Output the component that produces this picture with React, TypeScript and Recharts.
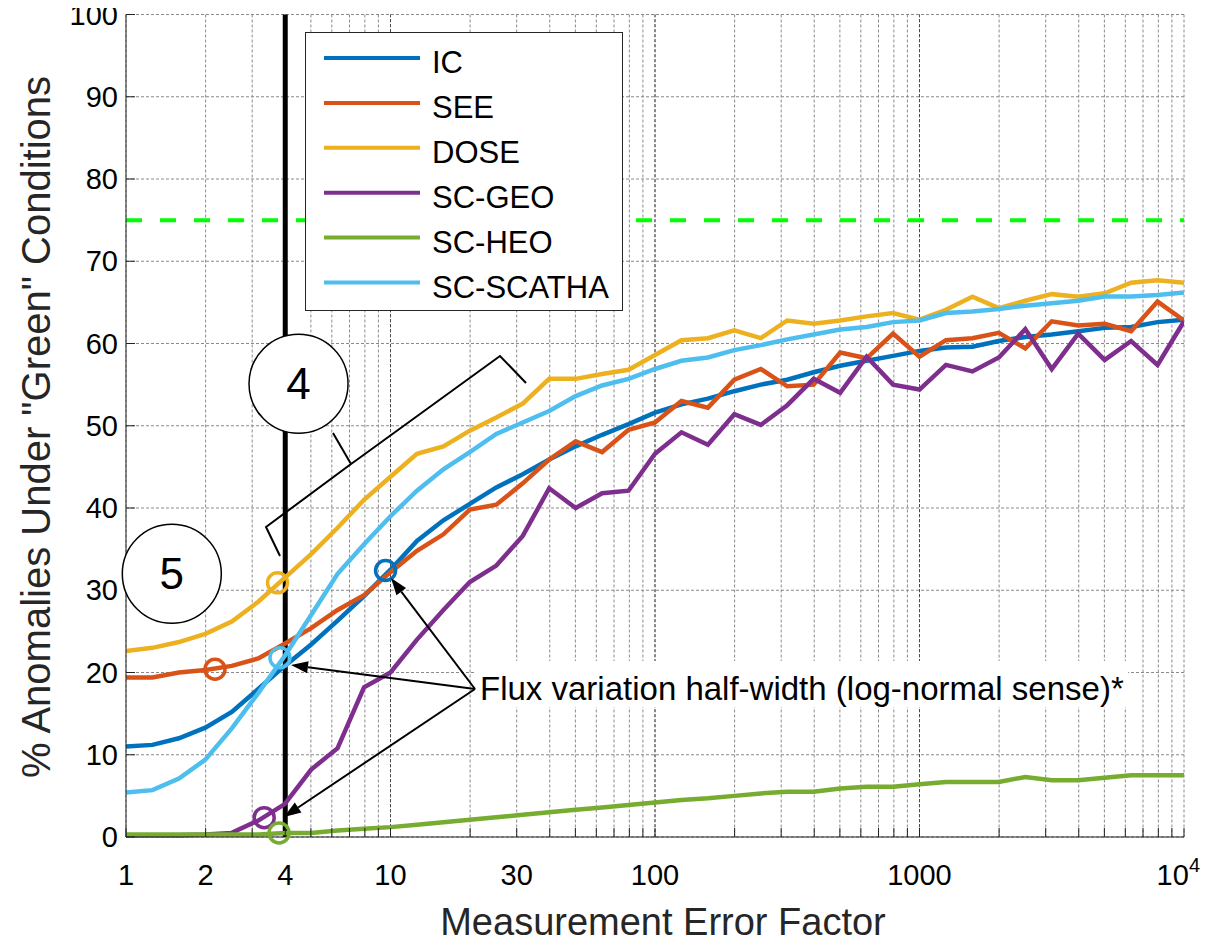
import React from 'react';
import { LineChart, Line, XAxis, YAxis, CartesianGrid, ReferenceLine, ReferenceDot, Legend } from 'recharts';

const errorFactor = [1, 1.259, 1.585, 1.995, 2.512, 3.162, 3.981, 5.012, 6.31, 7.943, 10, 12.59, 15.85, 19.95, 25.12, 31.62, 39.81, 50.12, 63.1, 79.43, 100, 125.9, 158.5, 199.5, 251.2, 316.2, 398.1, 501.2, 631, 794.3, 1000, 1259, 1585, 1995, 2512, 3162, 3981, 5012, 6310, 7943, 10000];

const icValues = [11.0, 11.2, 12.0, 13.3, 15.2, 18.0, 20.8, 23.4, 26.3, 29.3, 32.5, 36.0, 38.5, 40.5, 42.5, 44.1, 45.9, 47.5, 48.9, 50.2, 51.6, 52.6, 53.3, 54.2, 55.0, 55.6, 56.5, 57.3, 57.9, 58.5, 59.1, 59.5, 59.6, 60.3, 60.8, 61.1, 61.5, 61.9, 62.0, 62.6, 62.9];
const seeValues = [19.4, 19.4, 20.0, 20.3, 20.8, 21.7, 23.5, 25.4, 27.6, 29.4, 32.2, 34.8, 36.8, 39.8, 40.4, 43.0, 45.9, 48.1, 46.8, 49.5, 50.4, 53.0, 52.2, 55.6, 56.9, 54.8, 55.0, 58.9, 58.2, 61.2, 58.4, 60.4, 60.65, 61.3, 59.4, 62.7, 62.2, 62.4, 61.5, 65.1, 62.8];
const doseValues = [22.6, 23.0, 23.7, 24.7, 26.2, 28.6, 31.5, 34.4, 37.6, 41.0, 43.8, 46.6, 47.5, 49.4, 51.0, 52.7, 55.7, 55.7, 56.3, 56.8, 58.6, 60.4, 60.65, 61.6, 60.65, 62.8, 62.4, 62.8, 63.3, 63.7, 62.9, 64.1, 65.7, 64.3, 65.2, 66.0, 65.7, 66.1, 67.4, 67.7, 67.4];
const geoValues = [0.2, 0.2, 0.2, 0.3, 0.5, 2.0, 4.0, 8.2, 10.8, 18.2, 20.0, 24.0, 27.6, 31.0, 33.0, 36.6, 42.4, 40.0, 41.8, 42.1, 46.6, 49.2, 47.7, 51.4, 50.1, 52.5, 55.7, 54.0, 58.4, 55.0, 54.4, 57.4, 56.6, 58.3, 61.75, 56.9, 61.2, 58.0, 60.3, 57.4, 62.7];
const heoValues = [0.3, 0.3, 0.3, 0.3, 0.3, 0.3, 0.5, 0.5, 0.8, 1.0, 1.2, 1.5, 1.8, 2.1, 2.4, 2.7, 3.0, 3.3, 3.6, 3.9, 4.2, 4.5, 4.7, 5.0, 5.3, 5.5, 5.5, 5.9, 6.1, 6.1, 6.4, 6.7, 6.7, 6.7, 7.3, 6.9, 6.9, 7.2, 7.5, 7.5, 7.5];
const scathaValues = [5.4, 5.7, 7.1, 9.4, 13.2, 17.5, 22.0, 27.0, 32.0, 35.6, 39.0, 42.1, 44.7, 46.8, 49.0, 50.4, 51.8, 53.6, 54.9, 55.7, 56.9, 57.9, 58.3, 59.2, 59.8, 60.5, 61.1, 61.7, 62.0, 62.6, 62.8, 63.7, 63.9, 64.2, 64.6, 64.9, 65.2, 65.7, 65.7, 65.9, 66.2];

const seriesNames = ['IC', 'SEE', 'DOSE', 'SC-GEO', 'SC-HEO', 'SC-SCATHA'];
const seriesValues = [icValues, seeValues, doseValues, geoValues, heoValues, scathaValues];
const seriesColors = ['#0072BD', '#D95319', '#EDB120', '#7E2F8E', '#77AC30', '#4DBEEE'];

// half-width markers (open circles)
const markerX = [9.58, 2.17, 3.74, 3.33, 3.79, 3.82];
const markerY = [32.4, 20.4, 30.9, 2.35, 0.5, 21.8];

const xTickValues = [1, 2, 4, 10, 30, 100, 1000, 10000];
const xTickLabels = ['1', '2', '4', '10', '30', '100', '1000', '10^4'];
const xGridTicks = [1, 2, 3, 4, 5, 6, 7, 8, 9, 10, 20, 30, 40, 50, 60, 70, 80, 90, 100, 200, 300, 400, 500, 600, 700, 800, 900, 1000, 2000, 3000, 4000, 5000, 6000, 7000, 8000, 9000, 10000];
const xMajorGrid = [10, 100, 1000];
const yTicks = [0, 10, 20, 30, 40, 50, 60, 70, 80, 90, 100];

const thresholdY = 75;
const flagX = 4;
const callouts = [
  { label: '4', x: 4.49, y: 55.1 },
  { label: '5', x: 1.49, y: 32.0 },
];

const data = errorFactor.map((x, i) => {
  const row: Record<string, number> = { x };
  seriesNames.forEach((n, s) => { row[n] = seriesValues[s][i]; });
  return row;
});

const FONT = "'Liberation Sans', Arial, Helvetica, sans-serif";
const W = 1196;
const H = 939;

const XTick = (props: any) => {
  const { x, y, payload } = props;
  const i = xTickValues.indexOf(payload.value);
  if (i < 0) return <g />;
  const lab = xTickLabels[i];
  if (lab === '10^4') {
    return (
      <text x={x + 16} y={y + 57} textAnchor="end" fontSize={29} fontFamily={FONT} fill="#000">
        10<tspan dy={-13} fontSize={20}>4</tspan>
      </text>
    );
  }
  return (
    <text x={x} y={y + 57} textAnchor="middle" fontSize={29} fontFamily={FONT} fill="#000">{lab}</text>
  );
};

const YTick = (props: any) => {
  const { x, y, payload } = props;
  return (
    <text x={x} y={y} dy={10} textAnchor="end" fontSize={29} fontFamily={FONT} fill="#000">{payload.value}</text>
  );
};

const LegendBox = () => (
  <svg width={318} height={279} style={{ display: 'block' }}>
    <rect x={0.5} y={0.5} width={317} height={278} fill="#fff" stroke="#262626" strokeWidth={1} />
    {seriesNames.map((n, i) => {
      const cy = 26 + i * 44.9;
      return (
        <g key={n}>
          <line x1={19} x2={115} y1={cy} y2={cy} stroke={seriesColors[i]} strokeWidth={4} />
          <text x={127} y={cy + 15} fontSize={31} fontFamily={FONT} fill="#000">{n}</text>
        </g>
      );
    })}
  </svg>
);

const arrowPts = (fx: number, fy: number, tx: number, ty: number) => {
  const dx = tx - fx, dy = ty - fy;
  const L = Math.hypot(dx, dy);
  const ux = dx / L, uy = dy / L;
  const len = 17, half = 6;
  const bx = tx - ux * len, by = ty - uy * len;
  return { bx, by, pts: `${tx},${ty} ${bx - uy * half},${by + ux * half} ${bx + uy * half},${by - ux * half}` };
};

const Overlay = () => {
  const o = 8;
  const from = [475 - o, 689 - o];
  const tips = [[391 - o, 578 - o], [291 - o, 665 - o], [284 - o, 817 - o]];
  return (
    <svg width={W} height={H} style={{ position: 'absolute', left: 0, top: 0, pointerEvents: 'none' }}>
      <path
        d={`M${280 - o},${556 - o} L${266 - o},${527 - o} L${351 - o},${464 - o} L${333 - o},${433 - o} M${351 - o},${464 - o} L${358 - o},${459 - o} L${500 - o},${356 - o} L${526 - o},${383 - o}`}
        fill="none" stroke="#000" strokeWidth={2} strokeLinejoin="miter" />
      <rect x={476 - o} y={661 - o} width={652} height={46} fill="#fff" />
      <text x={480 - o} y={700 - o} fontSize={33} fontFamily={FONT} fill="#000">Flux variation half-width (log-normal sense)*</text>
      {tips.map((t, i) => {
        const a = arrowPts(from[0], from[1], t[0], t[1]);
        return (
          <g key={i}>
            <line x1={from[0]} y1={from[1]} x2={a.bx} y2={a.by} stroke="#000" strokeWidth={2} />
            <polygon points={a.pts} fill="#000" />
          </g>
        );
      })}
    </svg>
  );
};

export default function App() {
  return (
    <div style={{ position: 'relative', width: W, height: H, fontFamily: FONT }}>
      <LineChart width={W} height={H} data={data} margin={{ top: 6.5, right: 20, left: 0, bottom: 0 }}>
        <CartesianGrid stroke="#8a8a8a" strokeDasharray="3 2" strokeWidth={1} />
        {xMajorGrid.map((v) => (
          <ReferenceLine key={'mg' + v} x={v} stroke="#4a4a4a" strokeDasharray="3 2" strokeWidth={1} />
        ))}
        <XAxis
          dataKey="x" type="number" scale="log" domain={[1, 10000]} allowDataOverflow
          ticks={xGridTicks} interval={0} height={110}
          tickSize={-9} tickMargin={0} tick={<XTick />}
          axisLine={{ stroke: '#222' }} tickLine={{ stroke: '#222' }}
          label={{
            content: (p: any) => {
              const vb = p.viewBox || {};
              return (
                <text x={vb.x + vb.width / 2 + 8} y={927} textAnchor="middle" fontSize={38} fontFamily={FONT} fill="#262626">Measurement Error Factor</text>
              );
            },
          }}
        />
        <XAxis
          xAxisId="top" orientation="top" type="number" scale="log" domain={[1, 10000]} allowDataOverflow
          ticks={xGridTicks} interval={0} height={0} tickSize={-9} tick={false}
          axisLine={{ stroke: '#222' }} tickLine={{ stroke: '#222' }}
        />
        <YAxis
          type="number" domain={[0, 100]} ticks={yTicks} interval={0} width={118}
          tickSize={-9} tickMargin={17} tick={<YTick />}
          axisLine={{ stroke: '#222' }} tickLine={{ stroke: '#222' }}
          label={{
            content: () => (
              <text x={41.5} y={419} transform="rotate(-90 41.5 419)" textAnchor="middle" fontSize={40} fontFamily={FONT} fill="#262626">% Anomalies Under "Green" Conditions</text>
            ),
          }}
        />
        <YAxis
          yAxisId="r" orientation="right" type="number" domain={[0, 100]} ticks={yTicks} interval={0} width={0}
          tickSize={-9} tick={false} axisLine={{ stroke: '#222' }} tickLine={{ stroke: '#222' }}
        />
        <ReferenceLine y={thresholdY} stroke="#00FF00" strokeWidth={4} strokeDasharray="16 18" />
        {callouts.map((c) => (
          <ReferenceDot key={c.label} x={c.x} y={c.y} r={49.5} fill="#fff" stroke="#000" strokeWidth={1.5}
            label={{ value: c.label, position: 'center', fontSize: 44, fill: '#000', fontFamily: FONT }} />
        ))}
        <ReferenceLine x={flagX} stroke="#000" strokeWidth={5} />
        {seriesNames.map((n, i) => (
          <Line key={n} type="linear" dataKey={n} stroke={seriesColors[i]} strokeWidth={4.5} dot={false} isAnimationActive={false} />
        ))}
        {seriesNames.map((n, i) => (
          <ReferenceDot key={'m' + n} x={markerX[i]} y={markerY[i]} r={10} fill="none" stroke={seriesColors[i]} strokeWidth={3.5} />
        ))}
        <Legend layout="vertical" align="center" verticalAlign="middle"
          wrapperStyle={{ left: 297, top: 24, width: 318, height: 279 }}
          content={() => <LegendBox />} />
      </LineChart>
      <Overlay />
    </div>
  );
}
